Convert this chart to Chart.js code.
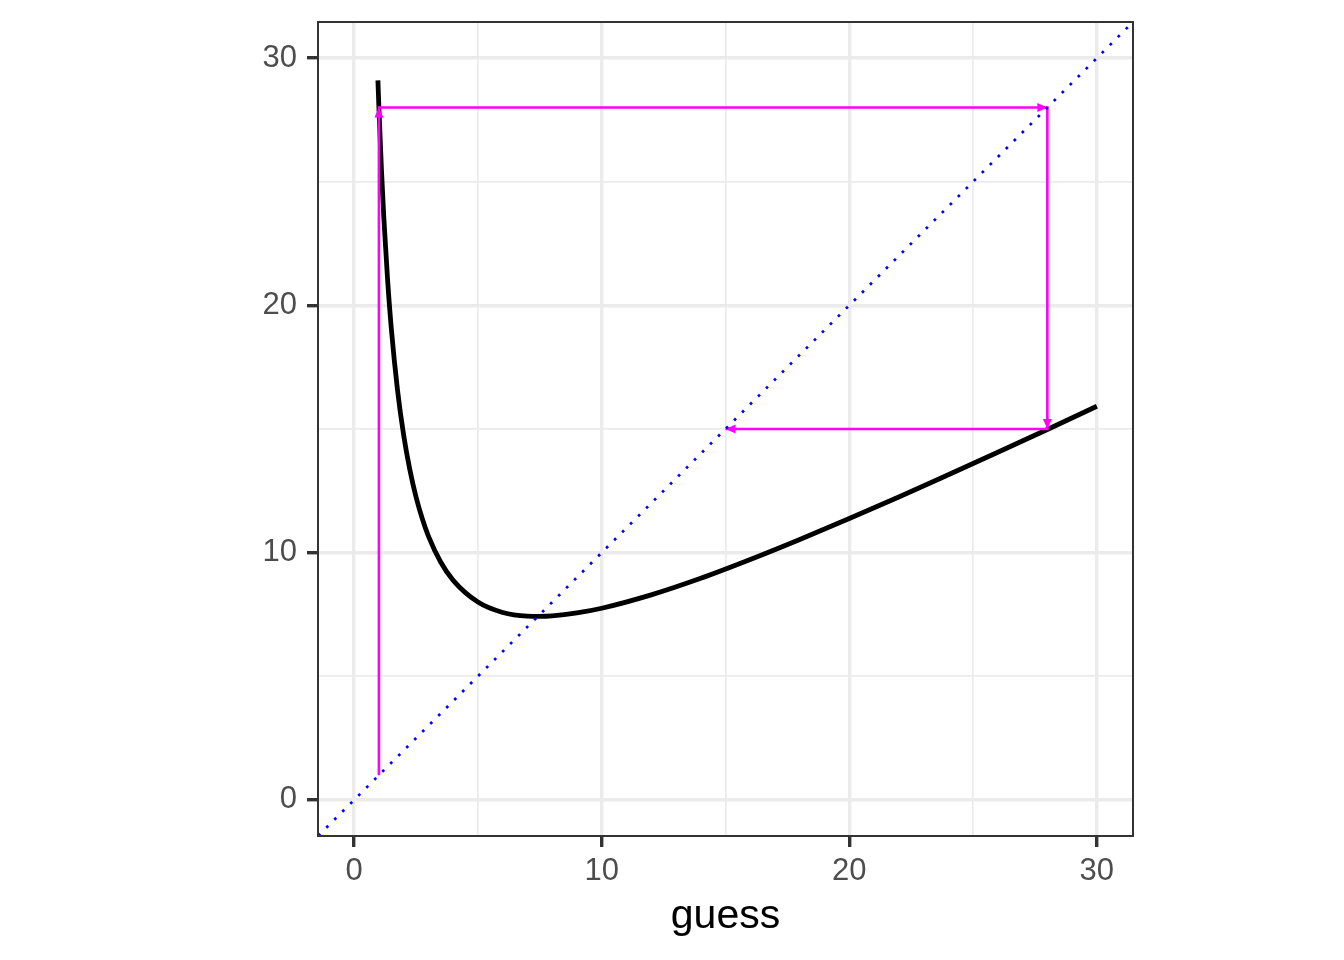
<!DOCTYPE html>
<html>
<head>
<meta charset="utf-8">
<script src="https://cdn.jsdelivr.net/npm/chart.js@4"></script>
<style>
  html, body { margin: 0; padding: 0; background: #ffffff; }
  canvas { display: block; }
</style>
</head>
<body>
<canvas id="cobweb" width="1344" height="960"></canvas>
<script>
// curve (guess -> next guess)
const curveX = [0.96, 1, 1.1, 1.2, 1.35, 1.5, 1.75, 2, 2.25, 2.5, 2.75, 3, 3.5, 4, 5, 6, 7, 7.5, 8, 9, 10, 12, 14, 16, 18, 20, 22, 24, 26, 28, 30];
const curveY = [29.1, 28, 25.55, 23.52, 21.05, 19.08, 16.59, 14.75, 13.35, 12.25, 11.38, 10.67, 9.61, 8.88, 8.0, 7.58, 7.43, 7.42, 7.44, 7.56, 7.75, 8.29, 8.96, 9.72, 10.53, 11.38, 12.25, 13.15, 14.06, 14.98, 15.92];

// cobweb path (magenta arrows)
const webX = [1, 1, 28, 28, 15];
const webY = [1, 28, 28, 15, 15];

// y = x reference line
const diagX = [-5, 40];
const diagY = [-5, 40];

// axis
const axisMin = -1.46;
const axisMax = 31.46;
const majorTicks = [0, 10, 20, 30];
const allTicks = [0, 5, 10, 15, 20, 25, 30];

const FONT = '"Liberation Sans", Arial, sans-serif';
const toPoints = (xs, ys) => xs.map((x, i) => ({ x: x, y: ys[i] }));

//pijlpunten aan het eind van elk segment, onder de zwarte curve
const arrowPlugin = {
  id: 'arrows',
  afterDatasetDraw(chart, args) {
    if (args.index !== 1) return;
    const ctx = chart.ctx;
    const xs = chart.scales.x, ys = chart.scales.y;
    ctx.save();
    ctx.fillStyle = '#FF00FF';
    for (let i = 1; i < webX.length; i++) {
      const x0 = xs.getPixelForValue(webX[i - 1]), y0 = ys.getPixelForValue(webY[i - 1]);
      const x1 = xs.getPixelForValue(webX[i]), y1 = ys.getPixelForValue(webY[i]);
      const a = Math.atan2(y1 - y0, x1 - x0);
      const len = 10, half = 4.5;
      ctx.beginPath();
      ctx.moveTo(x1, y1);
      ctx.lineTo(x1 - len * Math.cos(a) + half * Math.sin(a), y1 - len * Math.sin(a) - half * Math.cos(a));
      ctx.lineTo(x1 - len * Math.cos(a) - half * Math.sin(a), y1 - len * Math.sin(a) + half * Math.cos(a));
      ctx.closePath();
      ctx.fill();
    }
    ctx.restore();
  }
};

//paneelrand rondom
const borderPlugin = {
  id: 'panelBorder',
  afterDraw(chart) {
    const { ctx, chartArea } = chart;
    ctx.save();
    ctx.strokeStyle = '#333333';
    ctx.lineWidth = 2;
    ctx.strokeRect(chartArea.left, chartArea.top, chartArea.right - chartArea.left, chartArea.bottom - chartArea.top);
    ctx.restore();
  }
};

const isMajor = v => majorTicks.includes(v);

function axisOptions(isX) {
  return {
    type: 'linear',
    min: axisMin,
    max: axisMax,
    afterBuildTicks: scale => {
      scale.ticks = allTicks.map(v => ({ value: v }));
    },
    afterFit: scale => {
      //vaste maten zodat het paneel precies op zijn plek valt
      if (isX) scale.height = 960 - 836;
      else scale.width = 318;
      scale.paddingTop = 0;
      scale.paddingBottom = 0;
      scale.paddingLeft = 0;
      scale.paddingRight = 0;
    },
    border: { display: false },
    grid: {
      color: '#EBEBEB',
      lineWidth: ctx => (ctx.tick && isMajor(ctx.tick.value)) ? 3.4 : 1.7,
      drawTicks: true,
      tickLength: 11,
      tickColor: ctx => (ctx.tick && isMajor(ctx.tick.value)) ? '#333333' : 'rgba(0,0,0,0)',
      tickWidth: 3.4
    },
    ticks: {
      autoSkip: false,
      maxRotation: 0,
      padding: isX ? 6 : 10,
      color: '#4D4D4D',
      font: { family: FONT, size: 31 },
      callback: v => isMajor(v) ? String(v) : ''
    },
    title: isX ? {
      display: true,
      text: 'guess',
      color: '#000000',
      font: { family: FONT, size: 41 },
      padding: { top: 0, bottom: 19 }
    } : { display: false }
  };
}

new Chart(document.getElementById('cobweb').getContext('2d'), {
  type: 'scatter',
  data: {
    datasets: [
      {
        data: toPoints(diagX, diagY),
        showLine: true,
        borderColor: '#0000FF',
        borderWidth: 2.7,
        borderDash: [2.7, 8.6],
        pointRadius: 0
      },
      {
        data: toPoints(webX, webY),
        showLine: true,
        borderColor: '#FF00FF',
        borderWidth: 2.6,
        pointRadius: 0,
        tension: 0
      },
      {
        data: toPoints(curveX, curveY),
        showLine: true,
        borderColor: '#000000',
        borderWidth: 4.8,
        cubicInterpolationMode: 'monotone',
        pointRadius: 0
      }
    ]
  },
  options: {
    responsive: false,
    animation: false,
    layout: { padding: { left: 0, right: 1344 - 1133, top: 22, bottom: 0 } },
    plugins: { legend: { display: false }, tooltip: { enabled: false } },
    scales: { x: axisOptions(true), y: axisOptions(false) }
  },
  plugins: [arrowPlugin, borderPlugin]
});
</script>
</body>
</html>
